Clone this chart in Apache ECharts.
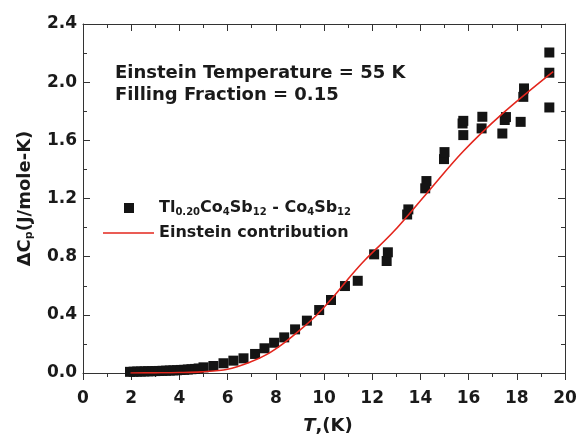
<!DOCTYPE html>
<html>
<head>
<meta charset="utf-8">
<script src="https://cdn.jsdelivr.net/npm/echarts@6/dist/echarts.min.js"></script>
<style>html,body{margin:0;padding:0;background:#fff}#c{width:580px;height:434px}</style>
</head>
<body>
<div id="c"></div>
<script>
// Measured data: Tl0.20Co4Sb12 - Co4Sb12, Delta Cp vs T
var measT = [1.95,2.1,2.25,2.4,2.55,2.7,2.85,3.0,3.15,3.3,3.45,3.6,3.75,3.9,4.05,4.2,4.35,4.5,4.65,4.8,5.0,5.41,5.83,6.24,6.66,7.14,7.53,7.93,8.35,8.8,9.29,9.8,10.29,10.87,11.4,12.08,12.6,12.65,13.45,13.5,14.2,14.25,14.98,15.0,15.78,15.75,15.78,16.54,16.57,17.4,17.5,17.55,18.16,18.27,18.3,19.35,19.35,19.35];
var measCp = [0.008,0.009,0.010,0.010,0.011,0.012,0.012,0.013,0.014,0.015,0.016,0.017,0.018,0.019,0.021,0.022,0.024,0.026,0.028,0.031,0.039,0.048,0.067,0.085,0.101,0.131,0.170,0.208,0.245,0.300,0.360,0.433,0.502,0.598,0.634,0.816,0.770,0.830,1.090,1.125,1.270,1.320,1.471,1.519,1.636,1.716,1.734,1.682,1.762,1.647,1.740,1.760,1.727,1.899,1.957,1.826,2.065,2.204];
// Einstein contribution curve
var einT = [1.97,3.0,4.0,4.9,6.0,6.94,7.63,8.32,9.01,9.7,10.39,11.08,11.7,12.88,14.26,15.78,17.44,19.51];
var einCp = [0.0,0.001,0.003,0.008,0.026,0.075,0.128,0.204,0.296,0.399,0.524,0.662,0.777,0.971,1.235,1.525,1.789,2.073];
var xTicks = [0,2,4,6,8,10,12,14,16,18,20];
var yTicks = [0.0,0.4,0.8,1.2,1.6,2.0,2.4];
var seriesNames = ['Tl0.20Co4Sb12 - Co4Sb12','Einstein contribution'];
var annotation = ['Einstein Temperature = 55 K','Filling Fraction = 0.15'];

var FONT = 'DejaVu Sans, Liberation Sans, Arial, sans-serif';
var chart = echarts.init(document.getElementById('c'), null, {renderer:'canvas'});
var scat = measT.map(function(t,i){return [t, measCp[i]];});
var ein = einT.map(function(t,i){return [t, einCp[i]];});
var axisCol = '#333';
var TXT = '#1a1a1a';
var sub = {fontSize:10, fontWeight:'bold', fontFamily:FONT, color:TXT, padding:[8,0,0,0]};
var main = {fontSize:16, fontWeight:'bold', fontFamily:FONT, color:TXT};

function legendFmt(name){
  if (name === seriesNames[0]) return '{m|Tl}{s|0.20}{m|Co}{s|4}{m|Sb}{s|12}{m| - Co}{s|4}{m|Sb}{s|12}';
  return '{m|' + name + '}';
}

chart.setOption({
  animation:false,
  textStyle:{fontFamily:FONT},
  title:{
    text: annotation.join('\n'),
    left:110, top:57,
    textStyle:{fontSize:18, fontWeight:'bold', fontFamily:FONT, color:TXT, lineHeight:22}
  },
  grid:{left:83, right:15, top:24, bottom:61, containLabel:false, outerBoundsMode:'none'},
  legend:[
    {data:[seriesNames[0]], left:103, top:200, padding:0, itemWidth:51, itemHeight:10,
     icon:'path://M0,0L0.01,0L0.01,0.01Z M21,0L31,0L31,10L21,10Z M51,10L50.99,10L50.99,9.99Z',
     formatter:legendFmt, textStyle:{rich:{m:main, s:sub}}},
    {data:[seriesNames[1]], left:103, top:225, padding:0, itemWidth:51, itemHeight:14, icon:'path://M0,0L51,0L51,1.6L0,1.6Z',
     formatter:legendFmt, textStyle:{rich:{m:main, s:sub}}}
  ],
  xAxis:[{
    type:'value', min:xTicks[0], max:xTicks[xTicks.length-1], interval:2, position:'bottom',
    axisLine:{show:true, onZero:false, lineStyle:{color:axisCol, width:1}},
    axisTick:{show:true, inside:false, length:7, lineStyle:{color:axisCol}},
    minorTick:{show:true, splitNumber:2, length:4, lineStyle:{color:axisCol}},
    splitLine:{show:false},
    axisLabel:{fontSize:17, fontWeight:'bold', color:TXT, margin:17, fontFamily:FONT},
    name:'{i|T}{n|,(K)}', nameLocation:'middle', nameGap:44,
    nameTextStyle:{rich:{i:{fontSize:18, fontWeight:'bold', fontStyle:'italic', fontFamily:FONT, color:TXT, padding:[0,0,0,8]}, n:{fontSize:18, fontWeight:'bold', fontFamily:FONT, color:TXT}}}
  },{
    type:'value', min:xTicks[0], max:xTicks[xTicks.length-1], interval:2, position:'top',
    axisLine:{show:true, onZero:false, lineStyle:{color:axisCol, width:1}},
    axisTick:{show:true, inside:true, length:7, lineStyle:{color:axisCol}},
    minorTick:{show:true, splitNumber:2, length:4, lineStyle:{color:axisCol}},
    splitLine:{show:false}, axisLabel:{show:false}
  }],
  yAxis:[{
    type:'value', min:yTicks[0], max:yTicks[yTicks.length-1], interval:0.4, position:'left',
    axisLine:{show:true, onZero:false, lineStyle:{color:axisCol, width:1}},
    axisTick:{show:true, inside:true, length:7, lineStyle:{color:axisCol}},
    minorTick:{show:true, splitNumber:2, length:4, lineStyle:{color:axisCol}},
    splitLine:{show:false},
    axisLabel:{fontSize:17, fontWeight:'bold', color:TXT, margin:6, fontFamily:FONT, formatter:function(v){return v.toFixed(1);}},
    name:'{m|ΔC}{s|p}{m|(J/mole-K)}', nameLocation:'middle', nameGap:48, nameRotate:90,
    nameTextStyle:{rich:{m:{fontSize:18, fontWeight:'bold', fontFamily:FONT, color:TXT}, s:{fontSize:11, fontWeight:'bold', fontFamily:FONT, color:TXT, padding:[9,0,0,0]}}}
  },{
    type:'value', min:yTicks[0], max:yTicks[yTicks.length-1], interval:0.4, position:'right',
    axisLine:{show:true, onZero:false, lineStyle:{color:axisCol, width:1}},
    axisTick:{show:true, inside:true, length:7, lineStyle:{color:axisCol}},
    minorTick:{show:true, splitNumber:2, length:4, lineStyle:{color:axisCol}},
    splitLine:{show:false}, axisLabel:{show:false}
  }],
  series:[
    {name:seriesNames[0], type:'scatter', data:scat, symbol:'rect', symbolSize:10, xAxisIndex:0, yAxisIndex:0,
     itemStyle:{color:'#141414', opacity:1}, z:2},
    {name:seriesNames[1], type:'line', data:ein, smooth:0.35, symbol:'none', showSymbol:false, xAxisIndex:0, yAxisIndex:0,
     lineStyle:{color:'#e3261d', width:1.6}, itemStyle:{color:'#e3261d'}, z:3}
  ]
});
</script>
</body>
</html>
